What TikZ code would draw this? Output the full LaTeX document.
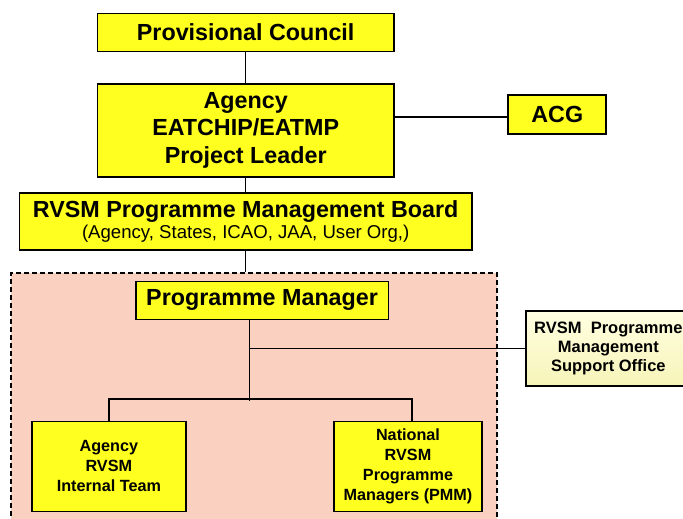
\documentclass[tikz,border=0pt]{standalone}
\usepackage{fontspec}
\setmainfont{Liberation Sans}
\definecolor{boxyellow}{RGB}{255,255,32}
\definecolor{regionpink}{RGB}{250,208,192}
\definecolor{paletop}{RGB}{255,255,226}
\definecolor{palebot}{RGB}{247,244,184}
\begin{document}
\begin{tikzpicture}[x=1pt,y=-1pt,
  box/.style={draw=black, line width=1.7pt, fill=boxyellow, inner sep=0pt,
    align=center, anchor=north west, font=\bfseries},
  bigtext/.style={font=\bfseries\fontsize{23.3}{27.7}\selectfont},
  smalltext/.style={font=\bfseries\fontsize{16.2}{20}\selectfont},
  link/.style={draw=black, line width=1.3pt},
  regionbox/.style={draw=black, line width=1.6pt, dash pattern=on 5pt off 3pt,
    fill=regionpink, inner sep=0pt, anchor=north west}]
\clip (0,0) rectangle (683,519);
\fill[white] (0,0) rectangle (683,519);
% dashed region
\node[regionbox, minimum width=486pt, minimum height=262pt] (region) at (10,272) {};
% boxes
\node[box, bigtext, minimum width=296.3pt, minimum height=38pt] (pc) at (96.7,12.7) {Provisional Council};
\node[box, bigtext, minimum width=296.3pt, minimum height=93pt] (ag) at (96.7,83) {Agency\\EATCHIP/EATMP\\Project Leader};
\node[box, bigtext, minimum width=98pt, minimum height=38.5pt] (acg) at (507.4,94.3) {ACG};
\node[box, minimum width=452.3pt, minimum height=57pt] (pmb) at (18.7,192)
  {{\fontsize{23.3}{25}\selectfont RVSM Programme Management Board}\\[1.5pt]
   {\mdseries\fontsize{18.6}{20}\selectfont (Agency, States, ICAO, JAA, User Org,)}};
\node[box, bigtext, minimum width=252.5pt, minimum height=38pt] (pm) at (135,280.5) {Programme Manager};
\node[box, fill=none, top color=paletop, bottom color=palebot,
  minimum width=165pt, minimum height=75pt, font=\bfseries\fontsize{16.5}{19}\selectfont] (so) at (525,310)
  {RVSM\ \ Programme\\Management\\Support Office};
\node[box, smalltext, minimum width=154pt, minimum height=90pt] (ait) at (31,420.5) {Agency\\RVSM\\Internal Team};
\node[box, smalltext, minimum width=147.7pt, minimum height=90pt] (nat) at (333.3,420.5) {National\\RVSM\\Programme\\Managers (PMM)};
% junction points
\coordinate (j1) at (249.7,348.3);
\coordinate (j2) at (249.7,399);
\coordinate (natdrop) at (412,420.5);
% connectors
\draw[link] (pc.south) -- (ag.north);
\draw[link] (ag.east |- 0,117) -- (acg.west |- 0,117);
\draw[link] (ag.south) -- (pmb.north);
\draw[link] (pmb.south) -- (pmb.south |- region.north);
\draw[link] (pm.south -| j1) -- (249.7,400.7);
\draw[link] (j1) -- (so.west |- j1);
\draw[link] (ait.north) |- (j2) -- (j2 -| natdrop) -- (natdrop);
\end{tikzpicture}
\end{document}
